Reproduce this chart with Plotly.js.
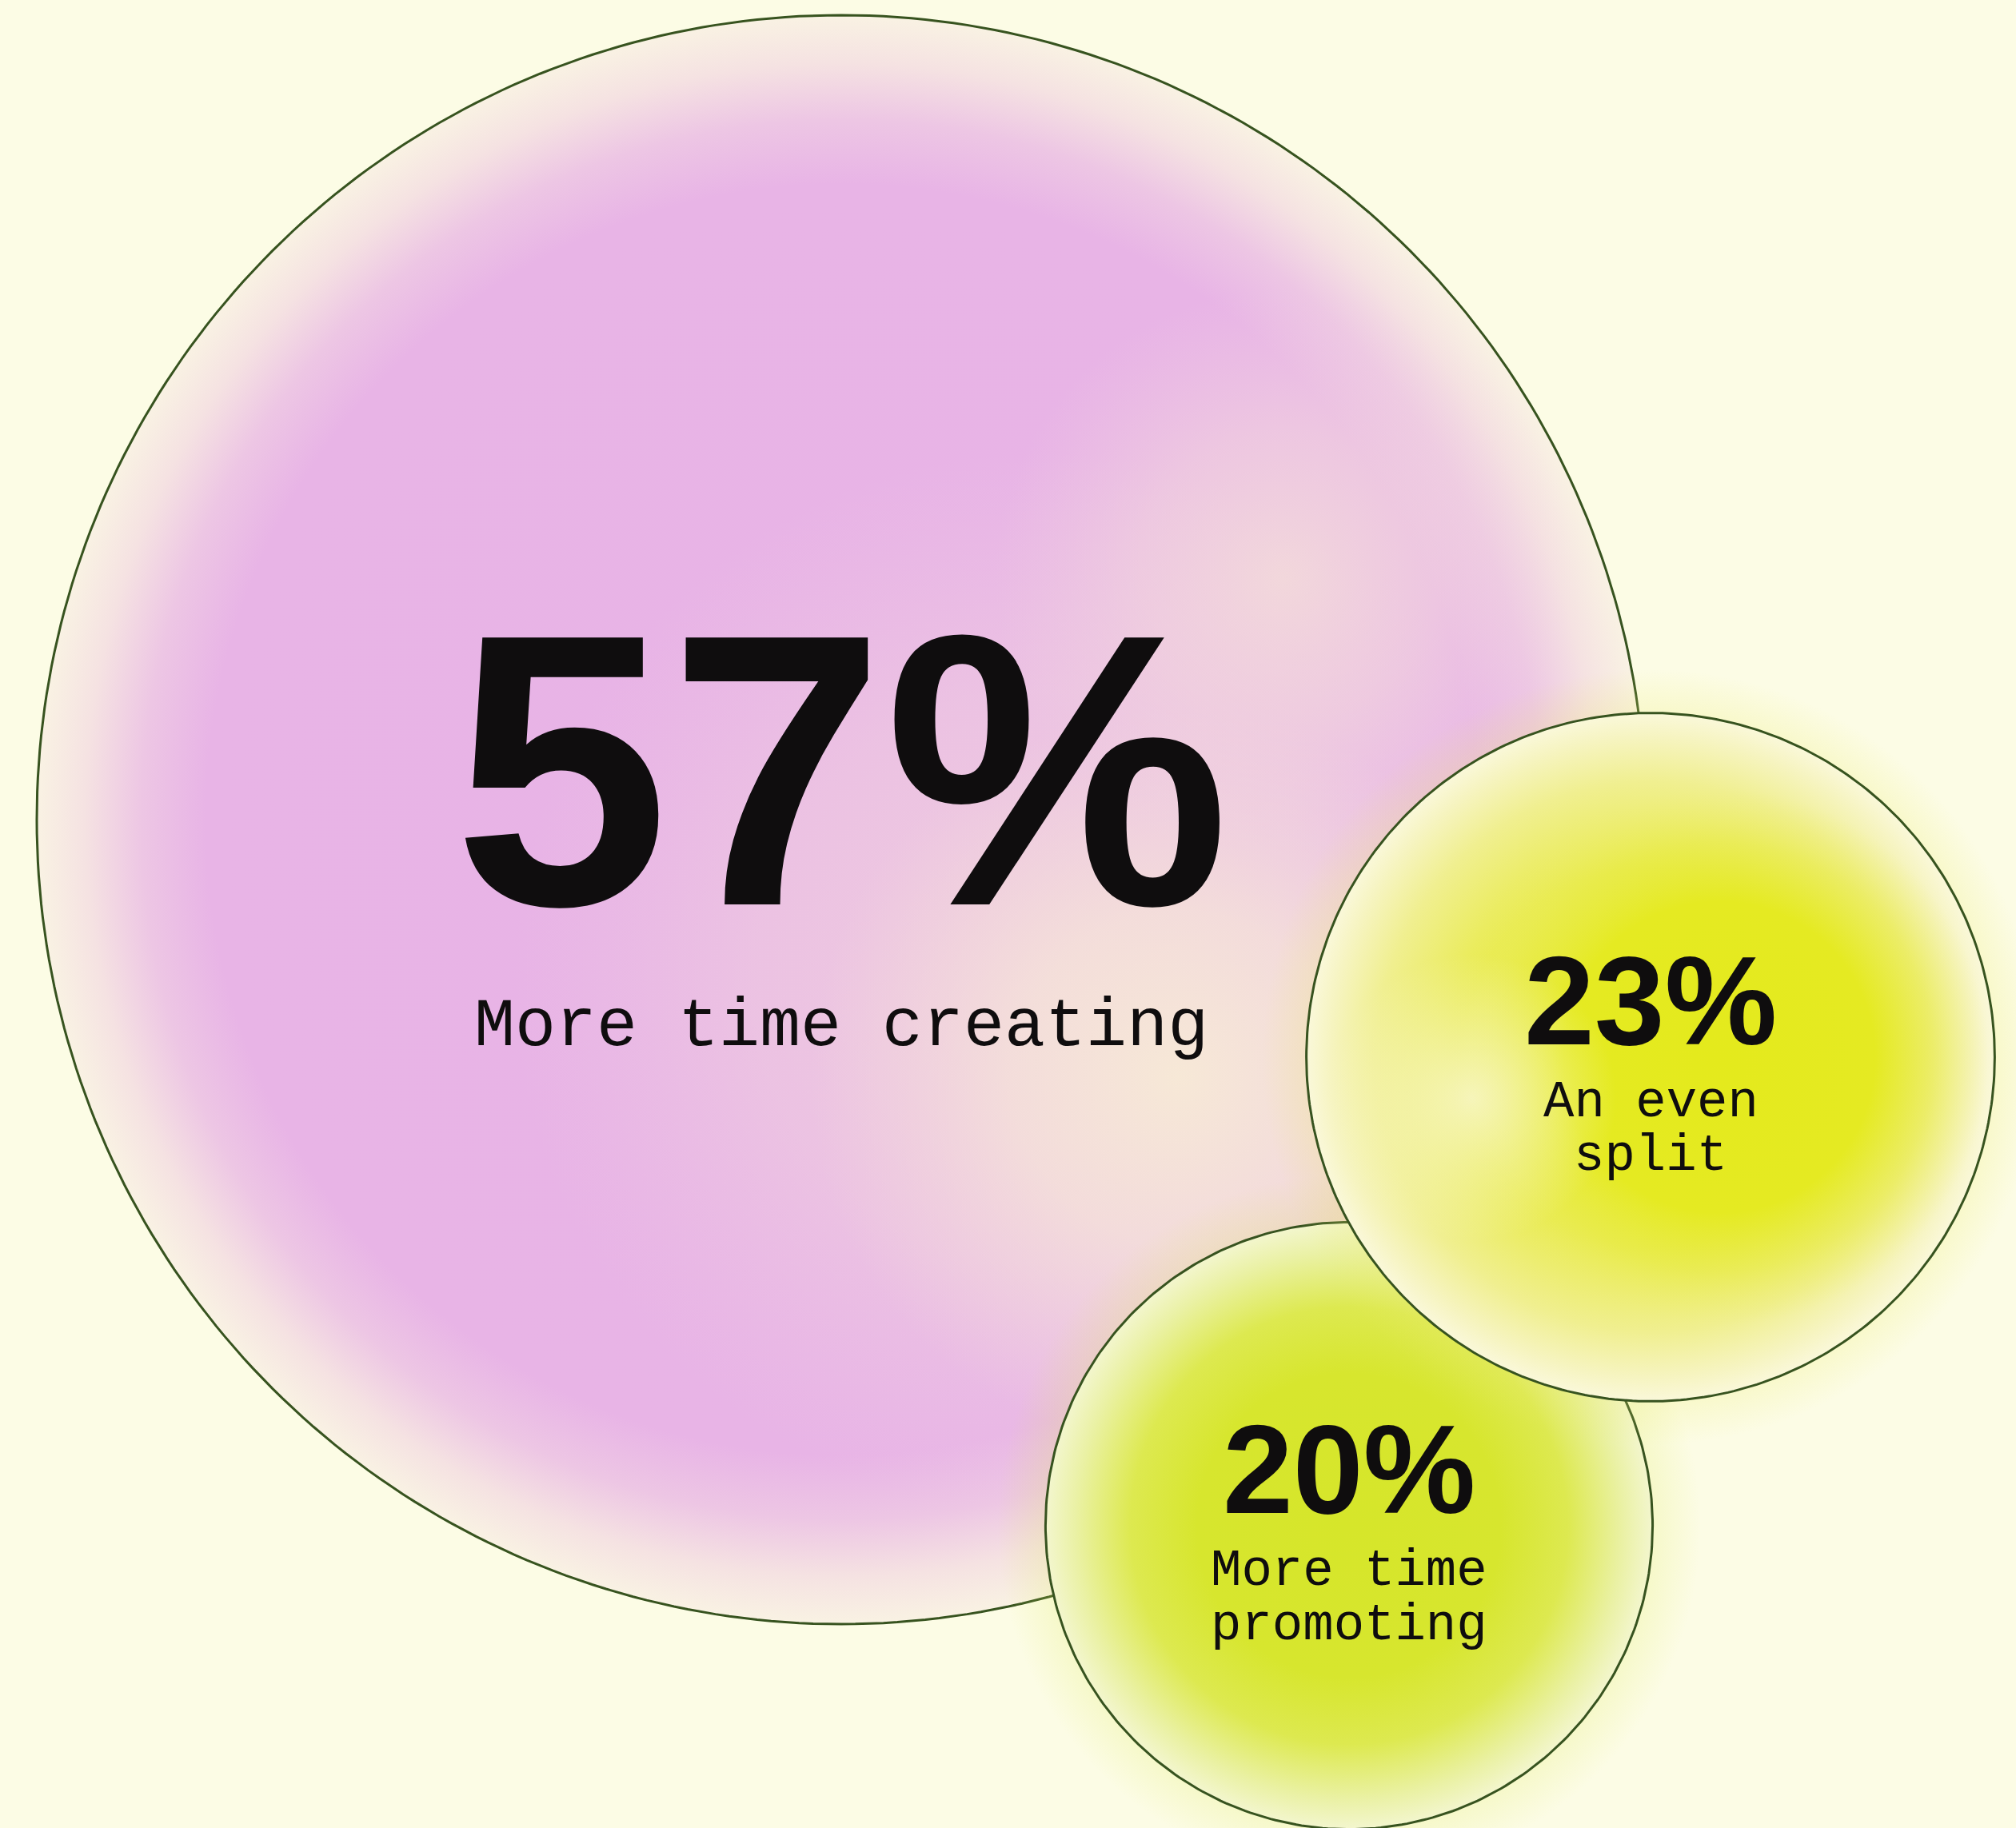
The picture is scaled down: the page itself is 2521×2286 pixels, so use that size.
<!DOCTYPE html>
<html>
<head>
<meta charset="utf-8">
<script src="https://cdn.plot.ly/plotly-3.0.1.min.js"></script>
<style>
  html, body { margin: 0; padding: 0; background: #FCFCE5; }
  #chart { width: 2521px; height: 2286px; }
</style>
</head>
<body>
<div id="chart"></div>
<script>
// ---------------- DATA ----------------
const categories = ['More time creating', 'An even split', 'More time promoting'];
const shares = [57, 23, 20];
const valueLabels = ['57%', '23%', '20%'];
const captionLines = [['More time creating'], ['An even', 'split'], ['More time', 'promoting']];

// ---------------- LAYOUT / STYLE ----------------
const W = 2521, H = 2286;
const bubbleCenters = [[1052, 1025], [2064, 1322], [1687, 1908]];   // positions (px units on axes)
const radiusBase = 41, radiusPerPoint = 16.93;                        // size scale: r = base + k * share
const drawOrder = [0, 2, 1];                                          // big, then small, then medium on top
const outline = { color: '#37531F', width: 3 };
const textColor = '#0F0D0E';
const bgColor = '#FCFCE5';

const bubbleStyle = [
  { // big pink bubble
    base: [[0, '#E8B3E6'], [0.79, '#E8B4E6'], [0.87, '#EDC6E4'], [0.94, '#F5E2E2'], [1, '#F9F2E3']],
    halo: null,
    blobs: [
      { dx: 0.25, dy: 0.20, rf: 0.66, cs: [[0, 'rgba(244,224,216,0.55)'], [0.55, 'rgba(243,221,220,0.35)'], [1, 'rgba(240,212,224,0)']] },
      { dx: 0.42, dy: 0.32, rf: 0.46, cs: [[0, 'rgba(247,234,214,0.95)'], [0.45, 'rgba(246,230,216,0.7)'], [1, 'rgba(244,222,218,0)']] },
      { dx: 0.55, dy: -0.30, rf: 0.36, cs: [[0, 'rgba(245,226,216,0.75)'], [0.5, 'rgba(244,222,218,0.45)'], [1, 'rgba(242,216,222,0)']] }
    ],
    numSize: 485, numDy: -62, capSize: 85, capDy: 259, capGap: 0
  },
  { // medium yellow bubble
    base: [[0, '#E6EA30'], [0.55, '#E9EB50'], [0.8, '#F0EF90'], [0.93, '#F6F4C0'], [1, '#FAF8DA']],
    halo: { w: 55, rgb: '236,236,110', a: 0.22 },
    blobs: [
      { dx: 0.20, dy: 0.0, rf: 0.78, cs: [[0, '#E4EA1C'], [0.58, '#E5EA22'], [0.8, 'rgba(232,235,70,0.55)'], [1, 'rgba(238,238,120,0)']] },
      { dx: -0.52, dy: 0.12, rf: 0.42, cs: [[0, 'rgba(250,248,220,0.75)'], [1, 'rgba(250,248,220,0)']] }
    ],
    numSize: 158, numDy: -71, capSize: 64, capDy: 57, capGap: 67
  },
  { // small green-yellow bubble
    base: [[0, '#D6E62A'], [0.5, '#D7E62E'], [0.72, '#DDE950'], [0.9, '#EAF1A4'], [1, '#F3F6CE']],
    halo: { w: 60, rgb: '222,234,90', a: 0.2 },
    blobs: [],
    numSize: 158, numDy: -71, capSize: 64, capDy: 57, capGap: 68
  }
];

// ---------------- BUILD ----------------
function radiusOf(v) { return radiusBase + radiusPerPoint * v; }

function ring(cx, cy, r) {
  const xs = [], ys = [];
  const n = 360;
  for (let i = 0; i <= n; i++) {
    const t = 2 * Math.PI * i / n;
    xs.push(cx + r * Math.cos(t));
    ys.push(cy + r * Math.sin(t));
  }
  return { x: xs, y: ys };
}

function disc(cx, cy, r, colorscale, withLine, name) {
  const p = ring(cx, cy, r);
  return {
    type: 'scatter', mode: 'lines', x: p.x, y: p.y, name: name,
    fill: 'toself',
    fillgradient: { type: 'radial', colorscale: colorscale },
    line: withLine ? { color: outline.color, width: outline.width } : { width: 0, color: 'rgba(0,0,0,0)' },
    hoverinfo: 'skip', showlegend: false
  };
}

const traces = [];
const annotations = [];

drawOrder.forEach(function (i) {
  const [cx, cy] = bubbleCenters[i];
  const r = radiusOf(shares[i]);
  const st = bubbleStyle[i];
  if (st.halo) {
    const R = r + st.halo.w;
    const k = r / R;
    traces.push(disc(cx, cy, R, [
      [0, 'rgba(' + st.halo.rgb + ',0)'],
      [k - 0.002, 'rgba(' + st.halo.rgb + ',' + st.halo.a + ')'],
      [k, 'rgba(' + st.halo.rgb + ',' + st.halo.a + ')'],
      [1, 'rgba(' + st.halo.rgb + ',0)']
    ], false, categories[i] + ' glow'));
  }
  traces.push(disc(cx, cy, r, st.base, true, categories[i]));
  st.blobs.forEach(function (b, j) {
    traces.push(disc(cx + b.dx * r, cy + b.dy * r, b.rf * r, b.cs, false, categories[i] + ' tint ' + j));
  });
});

shares.forEach(function (v, i) {
  const [cx, cy] = bubbleCenters[i];
  const st = bubbleStyle[i];
  annotations.push({
    xref: 'x', yref: 'y', x: cx, y: cy + st.numDy, showarrow: false,
    xanchor: 'center', yanchor: 'middle',
    text: valueLabels[i],
    font: { family: 'Liberation Sans, Arial, sans-serif', size: st.numSize, color: textColor, weight: 'bold' }
  });
  captionLines[i].forEach(function (line, j) {
    annotations.push({
      xref: 'x', yref: 'y', x: cx, y: cy + st.capDy + j * st.capGap, showarrow: false,
      xanchor: 'center', yanchor: 'middle',
      text: line,
      font: { family: 'Liberation Mono, DejaVu Sans Mono, monospace', size: st.capSize, color: textColor }
    });
  });
});

const layout = {
  width: W, height: H,
  margin: { l: 0, r: 0, t: 0, b: 0, pad: 0 },
  paper_bgcolor: bgColor, plot_bgcolor: bgColor,
  xaxis: { range: [0, W], visible: false, fixedrange: true, showgrid: false, zeroline: false },
  yaxis: { range: [H, 0], visible: false, fixedrange: true, showgrid: false, zeroline: false },
  showlegend: false,
  annotations: annotations
};

Plotly.newPlot('chart', traces, layout, { staticPlot: true, displayModeBar: false, responsive: false });
</script>
</body>
</html>
